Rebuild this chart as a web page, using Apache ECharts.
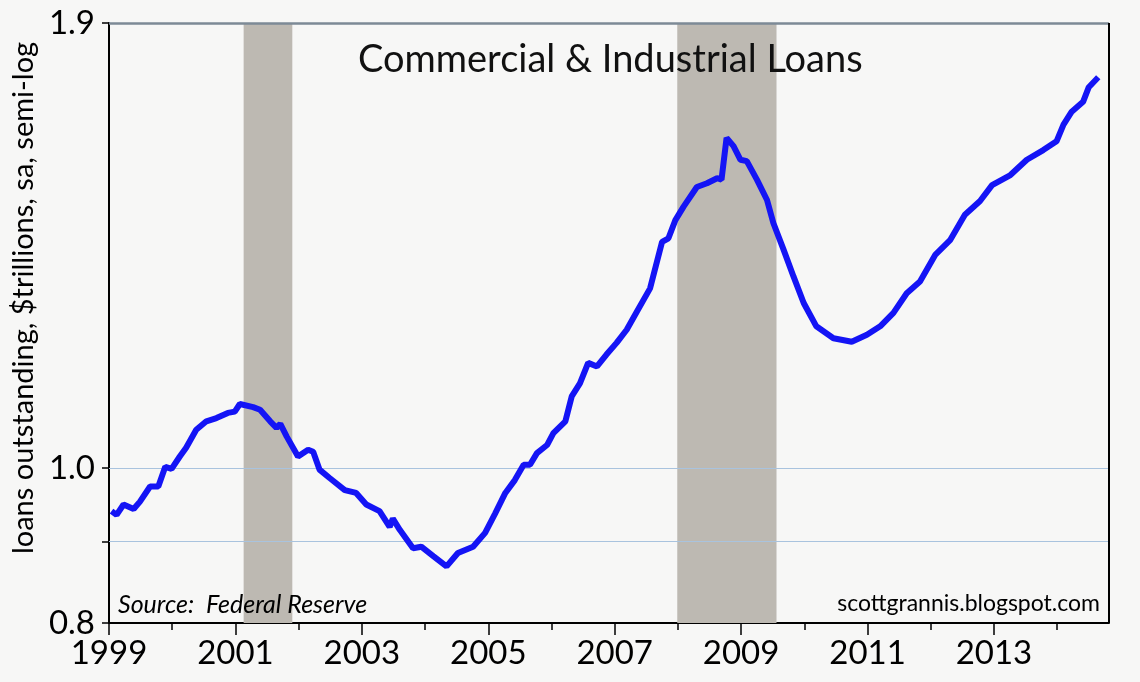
<!DOCTYPE html>
<html>
<head>
<meta charset="utf-8">
<script src="https://cdn.jsdelivr.net/npm/echarts@6/dist/echarts.min.js"></script>
<style>
html,body{margin:0;padding:0;background:#f7f7f6;}
#chart{width:1140px;height:682px;}
</style>
</head>
<body>
<div id="chart"></div>
<script>
// Decimal-year positions of the readings
var years = [
  1999.04,1999.12,1999.23,1999.39,1999.49,1999.65,1999.78,1999.89,1999.99,
  2000.12,2000.22,2000.38,2000.54,2000.70,2000.88,2000.99,
  2001.07,2001.28,2001.39,2001.55,2001.65,2001.71,2001.81,2001.99,
  2002.15,2002.23,2002.33,2002.49,2002.73,2002.91,
  2003.07,2003.28,2003.44,2003.49,2003.60,2003.81,2003.94,
  2004.13,2004.34,2004.52,2004.76,2004.95,
  2005.11,2005.27,2005.42,2005.56,2005.66,2005.77,2005.93,
  2006.03,2006.22,2006.32,2006.45,2006.58,2006.72,2006.87,
  2007.03,2007.19,2007.35,2007.56,2007.75,2007.85,2007.96,
  2008.09,2008.30,2008.46,2008.62,2008.69,2008.77,2008.88,2008.99,
  2009.09,2009.25,2009.41,2009.51,2009.67,2009.83,2009.99,
  2010.19,2010.46,2010.75,2010.99,
  2011.20,2011.41,2011.62,2011.83,
  2012.07,2012.31,2012.54,2012.78,2012.97,
  2013.26,2013.52,2013.78,2013.99,
  2014.10,2014.23,2014.41,2014.50,2014.65
];
// C&I loans outstanding, $ trillions
var loans = [
  0.940,0.935,0.949,0.943,0.953,0.974,0.974,1.002,0.999,
  1.017,1.030,1.057,1.070,1.075,1.083,1.085,
  1.097,1.092,1.088,1.070,1.060,1.066,1.047,1.017,
  1.027,1.024,0.998,0.986,0.969,0.965,
  0.949,0.940,0.919,0.930,0.915,0.891,0.893,
  0.881,0.868,0.885,0.893,0.911,
  0.937,0.965,0.983,1.005,1.005,1.022,1.034,
  1.052,1.070,1.109,1.130,1.164,1.158,1.178,
  1.198,1.221,1.253,1.296,1.386,1.393,1.430,
  1.458,1.500,1.508,1.519,1.516,1.610,1.591,1.560,
  1.557,1.516,1.472,1.424,1.371,1.318,1.269,
  1.227,1.206,1.200,1.212,
  1.227,1.251,1.287,1.309,
  1.360,1.390,1.441,1.470,1.504,
  1.526,1.560,1.582,1.602,
  1.641,1.672,1.696,1.732,1.757
];
// Recession shading (start, end in decimal years)
var recessionStart = [2001.13, 2007.99];
var recessionEnd   = [2001.90, 2009.56];
// Axis ticks
var xLabelYears = [1999,2001,2003,2005,2007,2009,2011,2013];
var xMinorYears = [2000,2002,2004,2006,2008,2010,2012,2014];
var yLabelValues = [0.8, 1.0, 1.9];
var yTickValues = [0.8, 0.9, 1.0, 1.9];
var yGridValues = [0.9, 1.0];
var yTop = 1.9;

var seriesData = years.map(function (t, i) { return [t, loans[i]]; });
var areas = recessionStart.map(function (s, i) { return [{xAxis: s}, {xAxis: recessionEnd[i]}]; });
var gridLines = yGridValues.map(function (v) {
  return {yAxis: v, lineStyle: {color: '#a9c3de', width: 1, type: 'solid'}};
});
gridLines.push({yAxis: yTop, lineStyle: {color: '#7d8a96', width: 2.5, type: 'solid'}});

var FONT = "'Lato', sans-serif";

var chart = echarts.init(document.getElementById('chart'));
chart.setOption({
  backgroundColor: '#f7f7f6',
  animation: false,
  title: {
    text: 'Commercial & Industrial Loans',
    left: 353, top: 36,
    textStyle: {fontFamily: FONT, fontWeight: 'normal', fontSize: 38, color: '#111'}
  },
  grid: {left: 109, right: 31, top: 23, bottom: 59, show: false},
  xAxis: [{
    type: 'value', min: 1999, max: 2014.82, interval: 2,
    axisLine: {show: true, lineStyle: {color: '#000', width: 2}},
    axisTick: {show: true, length: 12, customValues: xLabelYears, lineStyle: {color: '#000', width: 1.5}},
    axisLabel: {customValues: xLabelYears, color: '#000', fontFamily: FONT, fontSize: 33, margin: 14,
      formatter: function (v) { return String(Math.round(v)); }},
    splitLine: {show: false}
  }, {
    type: 'value', min: 1999, max: 2014.82, position: 'bottom',
    axisLine: {show: false},
    axisTick: {show: true, length: 7, customValues: xMinorYears, lineStyle: {color: '#000', width: 1.5}},
    axisLabel: {show: false},
    splitLine: {show: false}
  }],
  yAxis: {
    type: 'log', logBase: 10, min: 0.8, max: 1.9,
    axisLine: {show: true, lineStyle: {color: '#000', width: 2}},
    axisTick: {show: true, length: 7, customValues: yTickValues, lineStyle: {color: '#000', width: 1.5}},
    axisLabel: {customValues: yLabelValues, color: '#000', fontFamily: FONT, fontSize: 33, margin: 14,
      formatter: function (v) { return Number(v).toFixed(1); }},
    splitLine: {show: false}
  },
  graphic: [{
    type: 'line', shape: {x1: 1109, y1: 23, x2: 1109, y2: 623}, z: 50,
    style: {stroke: '#000', lineWidth: 2}
  }, {
    type: 'text', x: 24, y: 298, rotation: Math.PI / 2, z: 100,
    style: {text: 'loans outstanding, $trillions, sa, semi-log', fontFamily: FONT, fontSize: 29,
      fill: '#000', align: 'center', verticalAlign: 'middle'}
  }, {
    type: 'text', left: 118, top: 592, z: 100,
    style: {text: 'Source:  Federal Reserve', fontFamily: FONT, fontStyle: 'italic', fontSize: 25, fill: '#000'}
  }, {
    type: 'text', right: 40, top: 592, z: 100,
    style: {text: 'scottgrannis.blogspot.com', fontFamily: FONT, fontSize: 23, fill: '#000'}
  }],
  series: [{
    type: 'line',
    data: seriesData,
    showSymbol: false,
    lineStyle: {color: '#1414f5', width: 6},
    itemStyle: {color: '#1414f5'},
    z: 5,
    markArea: {silent: true, itemStyle: {color: '#bdb9b2'}, data: areas, z: 1},
    markLine: {silent: true, symbol: 'none', label: {show: false}, data: gridLines}
  }]
});
</script>
</body>
</html>
